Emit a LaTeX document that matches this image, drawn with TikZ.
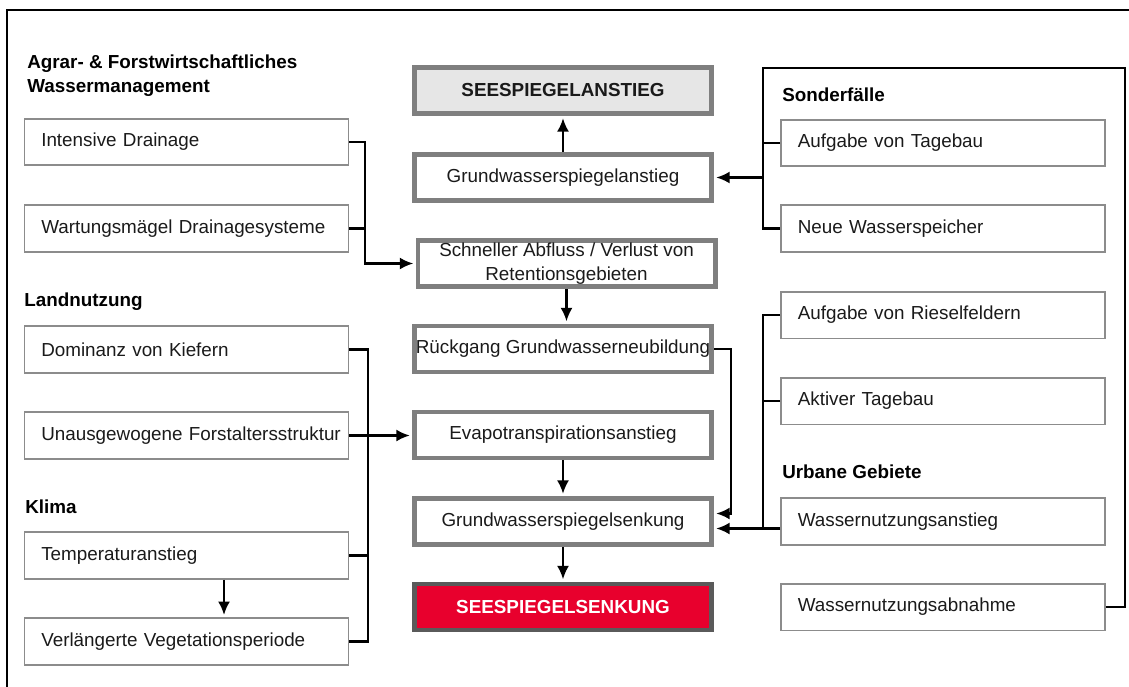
\documentclass[tikz,border=0pt]{standalone}
\usepackage{fontspec}
\setmainfont{Liberation Sans}
\usepackage{tikz}
\usetikzlibrary{calc,arrows.meta}
\definecolor{tinte}{HTML}{1A1A1A}
\definecolor{grau}{HTML}{8C8C8C}
\definecolor{rahmen}{HTML}{7F7F7F}
\definecolor{hellgrau}{HTML}{E6E6E6}
\definecolor{rot}{HTML}{E8002D}
\definecolor{dunkelgrau}{HTML}{5A5A5A}

\begin{document}
\begin{tikzpicture}[x=0.025cm,y=-0.025cm,
    >={Latex[length=9.5pt,width=8.5pt]},
    font=\fontsize{13.4}{17}\selectfont,
    linie/.style={line width=1.5pt,black},
    pfeil/.style={linie,->,shorten >=1.6pt},
    kasten/.style={draw=grau,line width=1.3pt,minimum height=1.17cm,
      text width=7.8cm,inner xsep=0.15cm,align=left,text=tinte,
      execute at begin node={\hspace*{0.27cm}}},
    hauptkasten/.style={draw=rahmen,line width=3.5pt,minimum width=7.425cm,
      minimum height=1.15cm,inner xsep=0pt,inner ysep=0.03cm,align=center,text=tinte},
    gruppe/.style={anchor=west,inner xsep=0pt,align=left,font=\fontsize{13.4}{17.5}\selectfont\bfseries}]
  \useasboundingbox (0,0) rectangle (1129,686);
  \draw[line width=1.4pt] (7,700) -- (7,10) -- (1140,10);

  % Gruppen
  \node[gruppe] (agrar) at (27,75.5) {Agrar- \& Forstwirtschaftliches\\Wassermanagement};
  \node[gruppe] (land) at (24,302) {Landnutzung};
  \node[gruppe] (klima) at (25,507) {Klima};
  \node[gruppe] (sonder) at (782,95) {Sonderfälle};
  \node[gruppe] (urban) at (782,472) {Urbane Gebiete};

  % linke Spalte
  \node[kasten] (drain) at (186.5,142) {Intensive Drainage};
  \node[kasten] (wart) at (186.5,228.5) {Wartungsmägel Drainagesysteme};
  \node[kasten] (kief) at (186.5,349.5) {Dominanz von Kiefern};
  \node[kasten] (unaus) at (186.5,435.5) {Unausgewogene Forstaltersstruktur};
  \node[kasten] (temp) at (186.5,555.5) {Temperaturanstieg};
  \node[kasten] (verl) at (186.5,641.5) {Verlängerte Vegetationsperiode};

  % Mitte
  \node[hauptkasten,fill=hellgrau,font=\fontsize{13.4}{17}\selectfont\bfseries] (seean) at (563,90.5) {SEESPIEGELANSTIEG};
  \node[hauptkasten] (gwan) at (563,177.5) {Grundwasserspiegelanstieg};
  \node[hauptkasten] (abfl) at (566.5,263.5) {Schneller Abfluss / Verlust von\\Retentionsgebieten};
  \node[hauptkasten] (rueck) at (563,349) {Rückgang Grundwasserneubildung};
  \node[hauptkasten] (evap) at (563,435) {Evapotranspirationsanstieg};
  \node[hauptkasten] (gwsen) at (563,521.5) {Grundwasserspiegelsenkung};
  \node[hauptkasten,draw=dunkelgrau,fill=rot,text=white,font=\fontsize{13.4}{17}\selectfont\bfseries] (seesen) at (563,607) {SEESPIEGELSENKUNG};

  % rechte Spalte
  \node[kasten] (tage) at (943,143) {Aufgabe von Tagebau};
  \node[kasten] (neu) at (943,228.5) {Neue Wasserspeicher};
  \node[kasten] (ries) at (943,315) {Aufgabe von Rieselfeldern};
  \node[kasten] (akt) at (943,401) {Aktiver Tagebau};
  \node[kasten] (anst) at (943,521.5) {Wassernutzungsanstieg};
  \node[kasten] (abn) at (943,607) {Wassernutzungsabnahme};

  \coordinate (busa) at (365,0);
  \coordinate (busl) at (368,0);
  \coordinate (bust) at (224,0);
  \coordinate (busr) at (731,0);
  \coordinate (buss) at (763,68);
  \coordinate (buse) at (1125,68);

  % links
  \draw[pfeil] (drain.east) -| (busa |- abfl.west) -- (abfl.west);
  \draw[linie] (wart.east) -- (wart.east -| busa);
  \draw[linie] (kief.east) -| (busl |- verl.east) -- (verl.east);
  \draw[linie] (temp.east) -- (temp.east -| busl);
  \draw[pfeil] (unaus.east) -- (unaus.east -| evap.west);
  \draw[pfeil] (temp.south -| bust) -- (verl.north -| bust);

  % Mitte
  \draw[pfeil] (gwan.north) -- (seean.south);
  \draw[pfeil] (abfl.south) -- (abfl.south |- rueck.north);
  \draw[pfeil] (evap.south) -- (gwsen.north);
  \draw[pfeil] (gwsen.south) -- (seesen.north);
  \draw[pfeil] (rueck.east) -| ($(busr |- gwsen.east)+(0,-8)$) -- ($(gwsen.east)+(0,-8)$);

  % rechts
  \draw[linie] (abn.east) -| (buse) -- (buss) -- (buss |- neu.west) -- (neu.west);
  \draw[linie] (tage.west) -- (tage.west -| buss);
  \draw[pfeil] (buss |- gwan.east) -- (gwan.east);
  \draw[linie] (ries.west) -| ($(buss |- anst.west)+(0,7)$);
  \draw[linie] (akt.west) -- (akt.west -| buss);
  \draw[pfeil] ($(anst.west)+(0,7)$) -- ($(gwsen.east)+(0,7)$);
\end{tikzpicture}
\end{document}
